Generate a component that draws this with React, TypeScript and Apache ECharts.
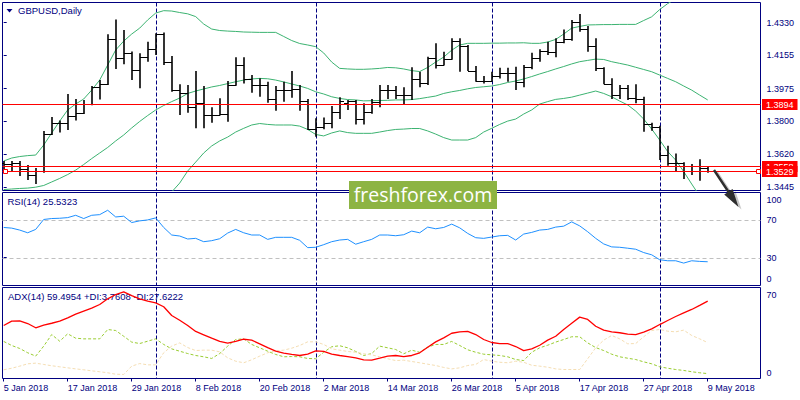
import React, { useEffect, useRef } from "react";
import * as echarts from "echarts";

// ---------- data ----------
const dates = [
  "5 Jan 2018", "8 Jan 2018", "9 Jan 2018", "10 Jan 2018", "11 Jan 2018", "12 Jan 2018", "15 Jan 2018", "16 Jan 2018", "17 Jan 2018", "18 Jan 2018",
  "19 Jan 2018", "22 Jan 2018", "23 Jan 2018", "24 Jan 2018", "25 Jan 2018", "26 Jan 2018", "29 Jan 2018", "30 Jan 2018", "31 Jan 2018", "1 Feb 2018",
  "2 Feb 2018", "5 Feb 2018", "6 Feb 2018", "7 Feb 2018", "8 Feb 2018", "9 Feb 2018", "12 Feb 2018", "13 Feb 2018", "14 Feb 2018", "15 Feb 2018",
  "16 Feb 2018", "19 Feb 2018", "20 Feb 2018", "21 Feb 2018", "22 Feb 2018", "23 Feb 2018", "26 Feb 2018", "27 Feb 2018", "28 Feb 2018", "1 Mar 2018",
  "2 Mar 2018", "5 Mar 2018", "6 Mar 2018", "7 Mar 2018", "8 Mar 2018", "9 Mar 2018", "12 Mar 2018", "13 Mar 2018", "14 Mar 2018", "15 Mar 2018",
  "16 Mar 2018", "19 Mar 2018", "20 Mar 2018", "21 Mar 2018", "22 Mar 2018", "23 Mar 2018", "26 Mar 2018", "27 Mar 2018", "28 Mar 2018", "29 Mar 2018",
  "30 Mar 2018", "2 Apr 2018", "3 Apr 2018", "4 Apr 2018", "5 Apr 2018", "6 Apr 2018", "9 Apr 2018", "10 Apr 2018", "11 Apr 2018", "12 Apr 2018",
  "13 Apr 2018", "16 Apr 2018", "17 Apr 2018", "18 Apr 2018", "19 Apr 2018", "20 Apr 2018", "23 Apr 2018", "24 Apr 2018", "25 Apr 2018", "26 Apr 2018",
  "27 Apr 2018", "30 Apr 2018", "1 May 2018", "2 May 2018", "3 May 2018", "4 May 2018", "7 May 2018", "8 May 2018", "9 May 2018",
];

const open = [
  1.3574, 1.3569, 1.3574, 1.3542, 1.3510, 1.3531, 1.3728, 1.3792, 1.3792, 1.3830,
  1.3846, 1.3892, 1.3982, 1.4000, 1.4242, 1.4141, 1.4165, 1.4074, 1.4144, 1.4187,
  1.4268, 1.4117, 1.3965, 1.3950, 1.3878, 1.3900, 1.3833, 1.3833, 1.3836, 1.3994,
  1.4102, 1.4025, 1.3994, 1.3994, 1.3917, 1.3967, 1.3967, 1.3971, 1.3910, 1.3757,
  1.3770, 1.3791, 1.3847, 1.3900, 1.3908, 1.3811, 1.3847, 1.3904, 1.3967, 1.3967,
  1.3941, 1.3941, 1.4025, 1.4007, 1.4138, 1.4102, 1.4133, 1.4233, 1.4206, 1.4071,
  1.4016, 1.4016, 1.4044, 1.4057, 1.4061, 1.4012, 1.4093, 1.4138, 1.4179, 1.4174,
  1.4228, 1.4240, 1.4335, 1.4294, 1.4205, 1.4088, 1.4000, 1.3941, 1.3977, 1.3923,
  1.3919, 1.3784, 1.3770, 1.3617, 1.3572, 1.3572, 1.3533, 1.3559, 1.3545,
];
const high = [
  1.3585, 1.3585, 1.3585, 1.3563, 1.3547, 1.3746, 1.3822, 1.3803, 1.3946, 1.3919,
  1.3914, 1.3989, 1.4021, 1.4268, 1.4348, 1.4291, 1.4175, 1.4165, 1.4228, 1.4273,
  1.4278, 1.4151, 1.3998, 1.3994, 1.4070, 1.3989, 1.3874, 1.3923, 1.4016, 1.4144,
  1.4144, 1.4048, 1.4031, 1.4012, 1.3989, 1.4012, 1.4070, 1.3994, 1.3919, 1.3815,
  1.3820, 1.3881, 1.3928, 1.3914, 1.3914, 1.3896, 1.3919, 1.3994, 1.3994, 1.3989,
  1.3982, 1.4090, 1.4066, 1.4147, 1.4219, 1.4174, 1.4246, 1.4246, 1.4210, 1.4097,
  1.4043, 1.4066, 1.4088, 1.4088, 1.4093, 1.4102, 1.4168, 1.4187, 1.4228, 1.4246,
  1.4294, 1.4345, 1.4377, 1.4312, 1.4246, 1.4090, 1.4031, 1.3994, 1.3994, 1.3998,
  1.3931, 1.3791, 1.3775, 1.3667, 1.3626, 1.3578, 1.3569, 1.3594, 1.3558,
];
const low = [
  1.3526, 1.3526, 1.3504, 1.3482, 1.3461, 1.3521, 1.3725, 1.3738, 1.3752, 1.3803,
  1.3838, 1.3885, 1.3917, 1.3995, 1.4081, 1.4106, 1.4021, 1.3977, 1.4120, 1.4156,
  1.4102, 1.3958, 1.3833, 1.3845, 1.3761, 1.3761, 1.3791, 1.3830, 1.3797, 1.3990,
  1.4003, 1.3953, 1.3931, 1.3899, 1.3856, 1.3904, 1.3926, 1.3856, 1.3752, 1.3716,
  1.3756, 1.3761, 1.3811, 1.3860, 1.3782, 1.3782, 1.3840, 1.3874, 1.3919, 1.3919,
  1.3890, 1.3914, 1.3982, 1.3994, 1.4084, 1.4100, 1.4130, 1.4066, 1.4070, 1.4012,
  1.4003, 1.4012, 1.4030, 1.4012, 1.3967, 1.3982, 1.4079, 1.4120, 1.4156, 1.4144,
  1.4219, 1.4233, 1.4281, 1.4174, 1.4070, 1.3998, 1.3919, 1.3919, 1.3914, 1.3896,
  1.3743, 1.3748, 1.3590, 1.3559, 1.3531, 1.3488, 1.3510, 1.3479, 1.3522,
];
const close = [
  1.3569, 1.3574, 1.3542, 1.3510, 1.3531, 1.3728, 1.3792, 1.3792, 1.3830, 1.3846,
  1.3892, 1.3982, 1.4000, 1.4242, 1.4141, 1.4165, 1.4074, 1.4144, 1.4187, 1.4268,
  1.4117, 1.3965, 1.3950, 1.3878, 1.3900, 1.3833, 1.3833, 1.3836, 1.3994, 1.4102,
  1.4025, 1.3994, 1.3994, 1.3917, 1.3967, 1.3967, 1.3971, 1.3910, 1.3757, 1.3770,
  1.3791, 1.3847, 1.3908, 1.3908, 1.3811, 1.3847, 1.3904, 1.3967, 1.3967, 1.3941,
  1.3941, 1.4025, 1.4007, 1.4138, 1.4102, 1.4133, 1.4233, 1.4206, 1.4071, 1.4016,
  1.4016, 1.4044, 1.4057, 1.4061, 1.4012, 1.4093, 1.4138, 1.4179, 1.4174, 1.4228,
  1.4240, 1.4335, 1.4294, 1.4205, 1.4088, 1.4000, 1.3941, 1.3977, 1.3923, 1.3919,
  1.3784, 1.3770, 1.3617, 1.3572, 1.3572, 1.3533, 1.3559, 1.3545, 1.3529,
];

const bbUpper = [
  1.3585, 1.3601, 1.3609, 1.3614, 1.3617, 1.3671, 1.3736, 1.3800, 1.3860, 1.3892,
  1.3919, 1.3967, 1.4021, 1.4102, 1.4183, 1.4231, 1.4269, 1.4301, 1.4345, 1.4382,
  1.4395, 1.4393, 1.4385, 1.4378, 1.4363, 1.4323, 1.4296, 1.4288, 1.4285, 1.4283,
  1.4280, 1.4279, 1.4278, 1.4278, 1.4278, 1.4256, 1.4234, 1.4218, 1.4210, 1.4201,
  1.4167, 1.4118, 1.4084, 1.4081, 1.4079, 1.4079, 1.4081, 1.4084, 1.4089, 1.4087,
  1.4081, 1.4072, 1.4067, 1.4089, 1.4118, 1.4145, 1.4182, 1.4210, 1.4219, 1.4219,
  1.4219, 1.4220, 1.4220, 1.4221, 1.4221, 1.4222, 1.4219, 1.4219, 1.4226, 1.4240,
  1.4269, 1.4301, 1.4310, 1.4318, 1.4319, 1.4320, 1.4320, 1.4321, 1.4321, 1.4321,
  1.4342, 1.4362, 1.4401, 1.4433, 1.4458, 1.4468, 1.4479, 1.4490, 1.4501,
];
const bbMiddle = [
  1.3431, 1.3434, 1.3437, 1.3439, 1.3444, 1.3453, 1.3472, 1.3491, 1.3512, 1.3536,
  1.3566, 1.3598, 1.3628, 1.3658, 1.3693, 1.3725, 1.3763, 1.3798, 1.3830, 1.3860,
  1.3884, 1.3905, 1.3924, 1.3949, 1.3962, 1.3973, 1.3984, 1.3992, 1.4002, 1.4012,
  1.4021, 1.4027, 1.4030, 1.4028, 1.4021, 1.4011, 1.4000, 1.3989, 1.3976, 1.3958,
  1.3946, 1.3931, 1.3922, 1.3916, 1.3914, 1.3909, 1.3910, 1.3911, 1.3912, 1.3914,
  1.3914, 1.3916, 1.3921, 1.3928, 1.3935, 1.3949, 1.3958, 1.3965, 1.3974, 1.3981,
  1.3985, 1.3989, 1.3997, 1.4008, 1.4016, 1.4027, 1.4040, 1.4054, 1.4067, 1.4081,
  1.4094, 1.4108, 1.4120, 1.4127, 1.4134, 1.4132, 1.4120, 1.4111, 1.4102, 1.4090,
  1.4078, 1.4066, 1.4048, 1.4030, 1.4012, 1.3989, 1.3967, 1.3940, 1.3914,
];
const bbLower = [
  1.3278, 1.3267, 1.3264, 1.3264, 1.3270, 1.3235, 1.3208, 1.3181, 1.3165, 1.3181,
  1.3213, 1.3229, 1.3235, 1.3213, 1.3202, 1.3218, 1.3256, 1.3294, 1.3315, 1.3337,
  1.3375, 1.3418, 1.3466, 1.3531, 1.3579, 1.3628, 1.3666, 1.3693, 1.3714, 1.3741,
  1.3761, 1.3779, 1.3787, 1.3782, 1.3779, 1.3779, 1.3779, 1.3773, 1.3755, 1.3728,
  1.3720, 1.3736, 1.3747, 1.3738, 1.3734, 1.3734, 1.3734, 1.3741, 1.3749, 1.3755,
  1.3757, 1.3760, 1.3760, 1.3747, 1.3730, 1.3711, 1.3698, 1.3698, 1.3698, 1.3711,
  1.3741, 1.3761, 1.3782, 1.3800, 1.3811, 1.3838, 1.3860, 1.3892, 1.3905, 1.3917,
  1.3922, 1.3929, 1.3940, 1.3951, 1.3962, 1.3949, 1.3931, 1.3908, 1.3887, 1.3854,
  1.3811, 1.3757, 1.3698, 1.3636, 1.3590, 1.3528, 1.3461, 1.3396, 1.3332,
];

const rsi = [
  62.4, 61.7, 59.6, 56.7, 60.3, 71.0, 72.0, 72.3, 73.0, 75.5,
  72.0, 75.5, 76.2, 80.9, 73.7, 74.5, 67.7, 69.5, 70.5, 72.7,
  62.4, 54.3, 53.2, 50.0, 50.7, 47.1, 48.2, 50.3, 56.4, 60.3,
  56.7, 54.3, 54.3, 49.6, 51.8, 51.8, 51.8, 48.6, 40.7, 41.1,
  43.9, 47.1, 48.9, 49.6, 44.4, 47.1, 49.6, 54.3, 54.3, 53.5,
  54.6, 58.5, 56.7, 62.8, 61.0, 62.4, 66.0, 62.0, 56.0, 51.4,
  50.7, 52.1, 53.5, 53.9, 48.9, 55.3, 57.1, 59.6, 60.3, 62.8,
  63.8, 68.4, 64.1, 57.8, 50.7, 44.7, 41.5, 41.1, 40.1, 39.0,
  35.4, 33.0, 27.7, 26.6, 26.6, 24.1, 26.6, 25.9, 25.53,
];
const adx = [
  40.8, 44.1, 44.4, 42.3, 39.0, 41.0, 42.5, 44.1, 46.7, 49.5,
  51.8, 54.1, 56.9, 61.3, 64.6, 66.7, 63.8, 61.3, 59.5, 58.2,
  55.2, 48.5, 44.8, 40.8, 36.2, 33.6, 31.0, 28.5, 27.2, 28.5,
  30.2, 29.5, 26.7, 23.8, 21.0, 19.5, 18.5, 17.7, 18.7, 21.3,
  20.8, 18.7, 17.7, 16.9, 15.9, 14.4, 14.1, 15.6, 17.2, 17.7,
  16.9, 17.7, 19.8, 24.1, 28.2, 31.3, 34.8, 35.9, 36.2, 33.8,
  30.0, 27.7, 26.9, 26.9, 24.6, 21.5, 22.8, 25.6, 29.5, 32.5,
  37.7, 42.5, 47.2, 45.4, 40.2, 37.2, 35.9, 35.2, 34.1, 33.8,
  35.6, 38.2, 41.5, 44.6, 47.7, 50.5, 53.1, 56.2, 59.5,
];
const plusDI = [
  28.5, 25.4, 23.1, 19.8, 17.2, 24.9, 33.8, 28.7, 34.4, 31.0,
  30.5, 30.5, 30.5, 37.7, 36.9, 32.5, 28.0, 26.9, 28.7, 30.5,
  26.2, 22.8, 21.0, 19.2, 17.7, 16.7, 15.4, 19.2, 24.9, 30.0,
  30.5, 26.2, 23.6, 21.0, 18.5, 16.7, 16.9, 16.7, 15.4, 15.2,
  20.2, 24.4, 25.2, 23.6, 20.8, 17.7, 19.2, 24.9, 23.6, 22.3,
  19.0, 21.8, 20.2, 24.1, 26.2, 26.2, 28.5, 25.4, 22.1, 20.2,
  18.7, 18.2, 17.7, 16.7, 14.6, 13.8, 20.2, 23.6, 25.6, 28.0,
  30.0, 32.1, 32.1, 27.4, 23.8, 21.5, 18.7, 16.7, 15.6, 14.6,
  12.8, 11.3, 9.0, 7.9, 6.9, 6.2, 5.2, 4.4, 3.76,
];
const minusDI = [
  6.7, 7.9, 9.5, 11.3, 11.8, 10.8, 9.8, 9.0, 8.2, 7.4,
  6.7, 5.9, 5.2, 4.4, 3.3, 3.1, 9.5, 11.5, 10.5, 10.5,
  19.8, 24.9, 27.4, 23.8, 21.5, 21.8, 21.8, 20.5, 15.9, 13.3,
  12.1, 14.4, 17.2, 19.8, 21.3, 21.8, 23.3, 25.4, 28.2, 28.2,
  26.2, 22.8, 21.8, 20.8, 20.2, 19.0, 18.2, 16.7, 15.2, 13.8,
  14.1, 13.1, 12.1, 11.0, 10.0, 8.5, 7.4, 8.2, 10.0, 10.8,
  14.6, 13.3, 12.5, 12.1, 13.3, 12.5, 10.2, 9.5, 8.7, 7.4,
  6.9, 6.9, 6.9, 15.2, 23.6, 29.5, 33.1, 30.5, 26.7, 26.9,
  32.1, 36.9, 37.7, 36.4, 35.9, 37.2, 33.1, 30.5, 27.62,
];

const priceTicks = [1.3445, 1.362, 1.38, 1.3975, 1.4155, 1.433];
const rsiTicks = [0, 30, 70, 100];
const rsiLevels = [70, 30];
const adxTicks = [0, 70];
const levelLines = [1.3894, 1.3558];
const bidPrice = 1.3529;

const symbolTitle = "GBPUSD,Daily";
const rsiTitle = "RSI(14) 25.5323";
const adxTitle = "ADX(14) 59.4954 +DI:3.7608 -DI:27.6222";
const watermark = "freshforex.com";

// ---------- style ----------
const NAVY = "#000080";
const FONT = '"Liberation Sans", Arial, sans-serif';
const X_MIN = -0.15;
const X_MAX = 94.6;

// annotation arrow outline (shaft + head)
const arrowShape = [
  [713.0, 170.7], [727.4, 192.4], [724.2, 194.5], [738.5, 207], [732.6, 188.9], [729.4, 191.0], [715.0, 169.3],
];

export default function App() {
  const ref = useRef<HTMLDivElement>(null);

  useEffect(() => {
    if (!ref.current) return;
    const chart = echarts.init(ref.current, null, { renderer: "svg" });

    const pair = (arr: number[]) => arr.map((v, i) => [i, v]);
    const labelIdx = dates.map((_, i) => i).filter((i) => i % 8 === 0);
    const month = (d: string) => d.split(" ")[1];
    const separators = dates
      .map((d, i) => (i > 0 && month(d) !== month(dates[i - 1]) ? i : -1))
      .filter((i) => i >= 0);

    const sepSeries = (g: number) => ({
      type: "custom",
      name: "separators" + g,
      xAxisIndex: g,
      yAxisIndex: g,
      z: 1,
      silent: true,
      encode: { x: 0, y: 1 },
      data: separators.map((i) => [i, 0]),
      renderItem: (params: any, api: any) => {
        const cs = params.coordSys;
        const x = Math.round(api.coord([api.value(0), 0])[0]) + 0.5;
        return {
          type: "line",
          shape: { x1: x, y1: cs.y, x2: x, y2: cs.y + cs.height },
          style: { stroke: NAVY, lineWidth: 1, lineDash: [4, 2] },
        };
      },
    });

    const xBase = (gridIndex: number, labels: boolean) => ({
      type: "value",
      gridIndex,
      min: X_MIN,
      max: X_MAX,
      axisLine: { show: false },
      splitLine: { show: false },
      axisTick: labels
        ? { show: true, customValues: labelIdx, length: 3, lineStyle: { color: NAVY } }
        : { show: false },
      axisLabel: labels
        ? {
            show: true,
            customValues: labelIdx,
            formatter: (v: number) => dates[Math.round(v)] ?? "",
            align: "left",
            margin: 5,
            color: NAVY,
            fontSize: 9,
            fontFamily: FONT,
          }
        : { show: false },
    });

    const labelStyle = { color: NAVY, fontSize: 9, fontFamily: FONT };

    const option: any = {
      animation: false,
      backgroundColor: "#ffffff",
      grid: [
        { left: 2.5, top: 2.5, width: 758, height: 188, show: true, borderColor: NAVY, borderWidth: 1 },
        { left: 2.5, top: 192.5, width: 758, height: 93, show: true, borderColor: NAVY, borderWidth: 1 },
        { left: 2.5, top: 287.5, width: 758, height: 91, show: true, borderColor: NAVY, borderWidth: 1 },
      ],
      xAxis: [xBase(0, false), xBase(1, false), xBase(2, true)],
      yAxis: [
        {
          type: "value",
          gridIndex: 0,
          position: "right",
          min: 1.3426,
          max: 1.4439,
          axisLine: { show: false },
          splitLine: { show: false },
          axisTick: { show: true, customValues: priceTicks, length: 3, lineStyle: { color: NAVY } },
          axisLabel: {
            customValues: priceTicks,
            formatter: (v: number) => v.toFixed(4),
            margin: 6,
            ...labelStyle,
          },
        },
        {
          type: "value",
          gridIndex: 1,
          position: "right",
          min: 0,
          max: 100,
          axisLine: { show: false },
          splitLine: { show: false },
          axisTick: { show: true, customValues: rsiTicks, length: 3, lineStyle: { color: NAVY } },
          axisLabel: {
            customValues: rsiTicks,
            formatter: (v: number) => (v === 100 ? "{t|100}" : v === 0 ? "{b|0}" : String(v)),
            margin: 6,
            ...labelStyle,
            rich: {
              t: { ...labelStyle, padding: [15, 0, 0, 0] },
              b: { ...labelStyle, padding: [0, 0, 14, 0] },
            },
          },
        },
        {
          type: "value",
          gridIndex: 2,
          position: "right",
          min: 0,
          max: 70,
          axisLine: { show: false },
          splitLine: { show: false },
          axisTick: { show: true, customValues: adxTicks, length: 3, lineStyle: { color: NAVY } },
          axisLabel: {
            customValues: adxTicks,
            formatter: (v: number) => (v === 70 ? "{t|70}" : "{b|0}"),
            margin: 6,
            ...labelStyle,
            rich: {
              t: { ...labelStyle, padding: [15, 0, 0, 0] },
              b: { ...labelStyle, padding: [0, 0, 12, 0] },
            },
          },
        },
      ],
      series: [
        sepSeries(0),
        sepSeries(1),
        sepSeries(2),
        {
          type: "line",
          name: "BB upper",
          xAxisIndex: 0,
          yAxisIndex: 0,
          data: pair(bbUpper),
          showSymbol: false,
          silent: true,
          lineStyle: { color: "#3cb371", width: 1 },
          z: 2,
        },
        {
          type: "line",
          name: "BB middle",
          xAxisIndex: 0,
          yAxisIndex: 0,
          data: pair(bbMiddle),
          showSymbol: false,
          silent: true,
          lineStyle: { color: "#3cb371", width: 1 },
          z: 2,
        },
        {
          type: "line",
          name: "BB lower",
          xAxisIndex: 0,
          yAxisIndex: 0,
          data: pair(bbLower),
          showSymbol: false,
          silent: true,
          lineStyle: { color: "#3cb371", width: 1 },
          z: 2,
        },
        {
          type: "custom",
          name: "levels",
          xAxisIndex: 0,
          yAxisIndex: 0,
          z: 4,
          silent: true,
          encode: { x: 0, y: 1 },
          data: [...levelLines.map((v) => [0, v, 0]), [0, bidPrice, 1]],
          renderItem: (params: any, api: any) => {
            const cs = params.coordSys;
            const v = api.value(1);
            const y = Math.round(api.coord([0, v])[1]) + 0.5;
            const children: any[] = [
              { type: "line", shape: { x1: cs.x, y1: y, x2: cs.x + cs.width, y2: y }, style: { stroke: "#ff0000", lineWidth: 1 } },
              {
                type: "text",
                x: cs.x + cs.width + 1.5,
                y: y,
                style: {
                  text: v.toFixed(4),
                  fill: "#ffffff",
                  backgroundColor: "#ff0000",
                  padding: [1, 4, 0, 4],
                  lineHeight: 10,
                  fontSize: 9,
                  fontFamily: FONT,
                  align: "left",
                  verticalAlign: "middle",
                },
              },
            ];
            if (api.value(2) === 1) {
              children.push(
                { type: "rect", shape: { x: cs.x + 1, y: y - 2, width: 4, height: 4 }, style: { fill: "#ffffff", stroke: "#ff0000", lineWidth: 1 } },
                { type: "rect", shape: { x: cs.x + cs.width - 4, y: y - 2, width: 4, height: 4 }, style: { fill: "#ffffff", stroke: "#ff0000", lineWidth: 1 } }
              );
            }
            return { type: "group", children };
          },
        },
        {
          type: "custom",
          name: "GBPUSD",
          xAxisIndex: 0,
          yAxisIndex: 0,
          z: 3,
          silent: true,
          clip: true,
          encode: { x: 0, y: [1, 2, 3, 4] },
          data: dates.map((_, i) => [i, open[i], high[i], low[i], close[i]]),
          renderItem: (_params: any, api: any) => {
            const i = api.value(0);
            const top = api.coord([i, api.value(2)]);
            const bot = api.coord([i, api.value(3)]);
            const x = Math.round(top[0]);
            const yO = Math.round(api.coord([i, api.value(1)])[1]) + 0.5;
            const yC = Math.round(api.coord([i, api.value(4)])[1]) + 0.5;
            return {
              type: "group",
              children: [
                { type: "line", shape: { x1: x, y1: top[1], x2: x, y2: bot[1] }, style: { stroke: "#000", lineWidth: 1.6 } },
                { type: "line", shape: { x1: x - 4, y1: yO, x2: x, y2: yO }, style: { stroke: "#000", lineWidth: 1 } },
                { type: "line", shape: { x1: x, y1: yC, x2: x + 4, y2: yC }, style: { stroke: "#000", lineWidth: 1 } },
              ],
            };
          },
        },
        {
          type: "custom",
          name: "rsiLevels",
          xAxisIndex: 1,
          yAxisIndex: 1,
          z: 1,
          silent: true,
          encode: { x: 0, y: 1 },
          data: rsiLevels.map((v) => [0, v]),
          renderItem: (params: any, api: any) => {
            const cs = params.coordSys;
            const y = Math.round(api.coord([0, api.value(1)])[1]) + 0.5;
            return {
              type: "line",
              shape: { x1: cs.x, y1: y, x2: cs.x + cs.width, y2: y },
              style: { stroke: "#c0c0c0", lineWidth: 1, lineDash: [4, 3] },
            };
          },
        },
        {
          type: "line",
          name: "RSI",
          xAxisIndex: 1,
          yAxisIndex: 1,
          data: pair(rsi),
          showSymbol: false,
          silent: true,
          z: 2,
          lineStyle: { color: "#1e90ff", width: 1 },
        },
        {
          type: "line",
          name: "ADX",
          xAxisIndex: 2,
          yAxisIndex: 2,
          data: pair(adx),
          showSymbol: false,
          silent: true,
          z: 3,
          lineStyle: { color: "#ff0000", width: 1.3 },
        },
        {
          type: "line",
          name: "+DI",
          xAxisIndex: 2,
          yAxisIndex: 2,
          data: pair(plusDI),
          showSymbol: false,
          silent: true,
          z: 2,
          lineStyle: { color: "#9acd32", width: 1, type: [3, 2] },
        },
        {
          type: "line",
          name: "-DI",
          xAxisIndex: 2,
          yAxisIndex: 2,
          data: pair(minusDI),
          showSymbol: false,
          silent: true,
          z: 2,
          lineStyle: { color: "#f5deb3", width: 1, type: [3, 2] },
        },
      ],
      graphic: [
        { type: "polygon", shape: { points: [[6.5, 9], [12.5, 9], [9.5, 12.5]] }, style: { fill: NAVY } },
        {
          type: "text",
          x: 18,
          y: 10.7,
          style: { text: symbolTitle, fill: NAVY, fontSize: 9.5, fontFamily: FONT, verticalAlign: "middle", align: "left" },
        },
        {
          type: "text",
          x: 7.5,
          y: 201.5,
          style: { text: rsiTitle, fill: NAVY, fontSize: 9.5, fontFamily: FONT, verticalAlign: "middle", align: "left" },
        },
        {
          type: "text",
          x: 8,
          y: 296,
          style: { text: adxTitle, fill: NAVY, fontSize: 9.5, fontFamily: FONT, verticalAlign: "middle", align: "left" },
        },
        {
          type: "rect",
          z: 100,
          shape: { x: 349, y: 181, width: 148, height: 28 },
          style: { fill: "#8db443" },
        },
        {
          type: "text",
          z: 101,
          x: 423,
          y: 194.5,
          style: {
            text: watermark,
            fill: "#ffffff",
            fontSize: 19.5,
            fontFamily: '"Open Sans", "Noto Sans", sans-serif',
            align: "center",
            verticalAlign: "middle",
          },
        },
        {
          type: "polygon",
          z: 100,
          x: 3,
          y: 2.5,
          shape: { points: arrowShape },
          style: { fill: "rgba(0,0,0,0.22)" },
        },
        {
          type: "polygon",
          z: 101,
          shape: { points: arrowShape },
          style: { fill: "#2e2e2e" },
        },
      ],
    };

    chart.setOption(option);
    return () => chart.dispose();
  }, []);

  return (
    <div
      ref={ref}
      style={{ position: "fixed", left: 0, top: 0, width: 800, height: 400, background: "#ffffff" }}
    />
  );
}
